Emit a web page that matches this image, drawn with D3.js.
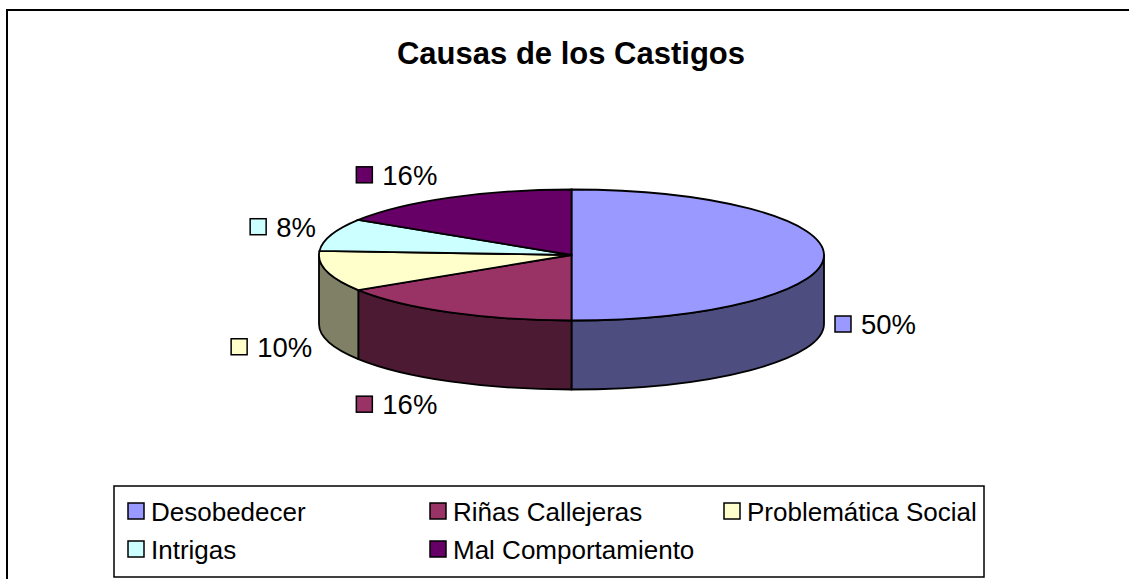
<!DOCTYPE html>
<html>
<head>
<meta charset="utf-8">
<script src="https://cdn.jsdelivr.net/npm/d3@7"></script>
<style>
  body { margin: 0; background: #fff; }
  text { font-family: "Liberation Sans", Arial, sans-serif; fill: #000; }
</style>
</head>
<body>
<script>
/* Data */
const CATEGORIES = ["Desobedecer", "Riñas Callejeras", "Problemática Social", "Intrigas", "Mal Comportamiento"];
const VALUES = [50, 16, 10, 8, 16];
const COLORS = ["#9999FF", "#993366", "#FFFFCC", "#CCFFFF", "#660066"];
const TITLE = "Causas de los Castigos";

/* Layout */
const WIDTH = 1129, HEIGHT = 579;
const CX = 571.5, CY = 255, RX = 252.5, RY = 65.5, DEPTH = 69;
const LEG = {x: 114, y: 486, w: 870, h: 91, cols: [128, 430, 724], row0: 511, rowH: 38};

//half brightness for the side walls of the 3D pie
const shade = (c) => { let k = d3.rgb(c); return d3.rgb(k.r * 0.5, k.g * 0.5, k.b * 0.5).formatHex(); };

const svg = d3.select("body").append("svg").attr("width", WIDTH).attr("height", HEIGHT);

//chart area border (runs off the right and bottom like the original)
svg.append("rect").attr("x", 7).attr("y", 10).attr("width", 1140).attr("height", 600)
    .attr("fill", "#fff").attr("stroke", "#000").attr("stroke-width", 2);

svg.append("text").attr("x", 571).attr("y", 64).attr("text-anchor", "middle")
    .style("font-size", "31px").style("font-weight", "bold").text(TITLE);

const pie = d3.pie().sort(null).value((d) => d);
const arcs = pie(VALUES);
const total = d3.sum(VALUES);
const pct = d3.format(".0%");

const pt = (a, y0) => [CX + RX * Math.sin(a), y0 - RY * Math.cos(a)];

//side walls, only the front half (90deg to 270deg) is visible
const sides = svg.append("g");
arcs.forEach((d, i) => {
    let s = Math.max(d.startAngle, Math.PI / 2), e = Math.min(d.endAngle, 3 * Math.PI / 2);
    if (s >= e) return;
    let p0 = pt(s, CY), p1 = pt(e, CY), q1 = pt(e, CY + DEPTH), q0 = pt(s, CY + DEPTH);
    sides.append("path")
        .attr("d", `M${p0}A${RX},${RY} 0 0 1 ${p1}L${q1}A${RX},${RY} 0 0 0 ${q0}Z`)
        .attr("fill", shade(COLORS[i]))
        .attr("stroke", "#000").attr("stroke-width", 1.8).attr("stroke-linejoin", "round");
});

//top faces: circular arcs squashed into an ellipse
const arc = d3.arc().innerRadius(0).outerRadius(RX);
svg.append("g")
    .attr("transform", `translate(${CX},${CY}) scale(1,${RY / RX})`)
    .selectAll("path")
    .data(arcs)
    .enter()
    .append("path")
    .attr("d", arc)
    .attr("fill", (d, i) => COLORS[i])
    .attr("stroke", "#000").attr("stroke-width", 1.8)
    .attr("vector-effect", "non-scaling-stroke");

//data labels
arcs.forEach((d, i) => {
    let m = (d.startAngle + d.endAngle) / 2;
    let sin = Math.sin(m), cos = Math.cos(m);
    let p = pt(m, cos <= 0.01 ? CY + DEPTH : CY);
    let g = svg.append("g");
    let t = g.append("text").style("font-size", "27.5px").text(pct(d.value / total));
    let hw = (16 + 10 + t.node().getComputedTextLength()) / 2, hh = 10;
    let cx = p[0] + (11 + 17 * Math.abs(cos)) * sin + Math.sign(sin) * hw;
    let cy = p[1] - 16 * cos - cos * hh;
    g.append("rect").attr("x", cx - hw).attr("y", cy - 8).attr("width", 16).attr("height", 16)
        .attr("fill", COLORS[i]).attr("stroke", "#000").attr("stroke-width", 1.5);
    t.attr("x", cx - hw + 26).attr("y", cy + 10);
});

//legend
svg.append("rect").attr("x", LEG.x).attr("y", LEG.y).attr("width", LEG.w).attr("height", LEG.h)
    .attr("fill", "#fff").attr("stroke", "#000").attr("stroke-width", 1.5);

let items = svg.append("g").selectAll("g")
    .data(CATEGORIES)
    .enter()
    .append("g")
    .attr("transform", (d, i) => "translate(" + [LEG.cols[i % 3], LEG.row0 + Math.floor(i / 3) * LEG.rowH] + ")");

items.append("rect").attr("x", 0).attr("y", -8).attr("width", 16).attr("height", 16)
    .attr("fill", (d, i) => COLORS[i]).attr("stroke", "#000").attr("stroke-width", 1.5);

items.append("text").attr("x", 23).attr("y", 9.5).style("font-size", "26px").text((d) => d);
</script>
</body>
</html>
